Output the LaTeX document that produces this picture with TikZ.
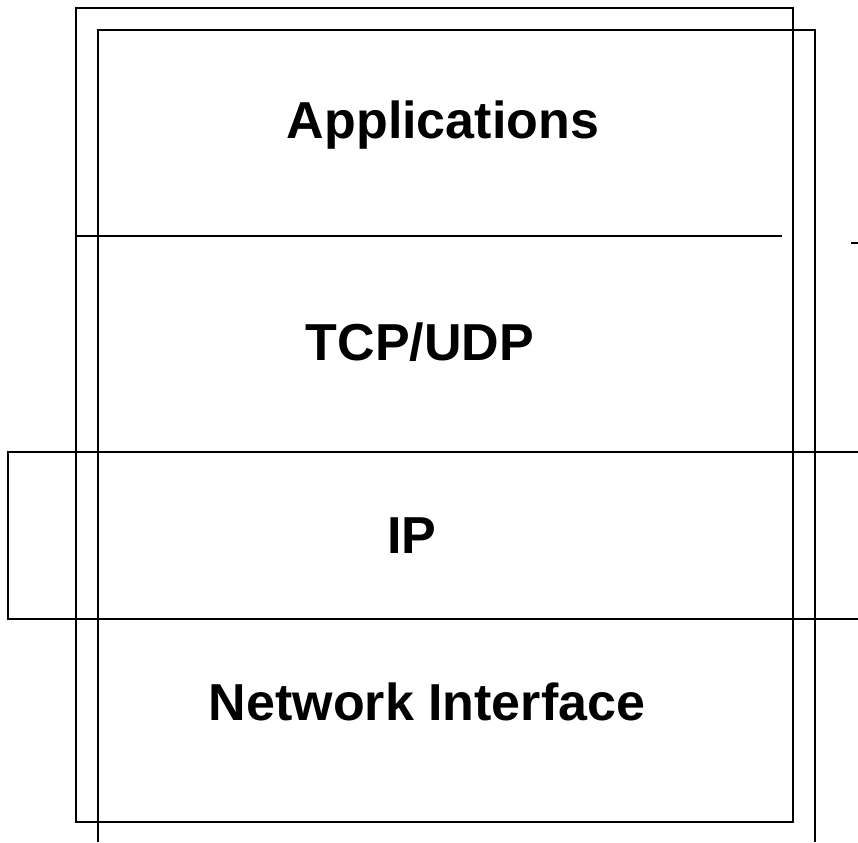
\documentclass[tikz,border=0pt]{standalone}
\usepackage{fontspec}
\setmainfont{Liberation Sans}
\begin{document}
\begin{tikzpicture}[x=1pt,y=-1pt,
  layerline/.style={line width=2.4pt,line cap=rect},
  thinline/.style={line width=2pt},
  layerlabel/.style={font=\fontsize{52}{60}\selectfont\bfseries,inner sep=0pt,anchor=center}]
\useasboundingbox (0,0) rectangle (858,842);
% outer stack
\draw[layerline] (76,8) rectangle (793,822);
% inner (offset) stack
\draw[thinline] (98,842) -- (98,30) -- (815,30) -- (815,842);
% separator under Applications
\draw[layerline] (76,236) -- (781,236);
\draw[thinline] (851,243) -- (858,243);
% IP band
\draw[layerline] (858,452) -- (8,452) -- (8,619) -- (858,619);
% labels
\node[layerlabel] (app) at (443,125) {Applications};
\node[layerlabel] (tcp) at (420,342) {TCP/UDP};
\node[layerlabel] (ip) at (412,536) {IP};
\node[layerlabel] (ni) at (427,702) {Network Interface};
\end{tikzpicture}
\end{document}
